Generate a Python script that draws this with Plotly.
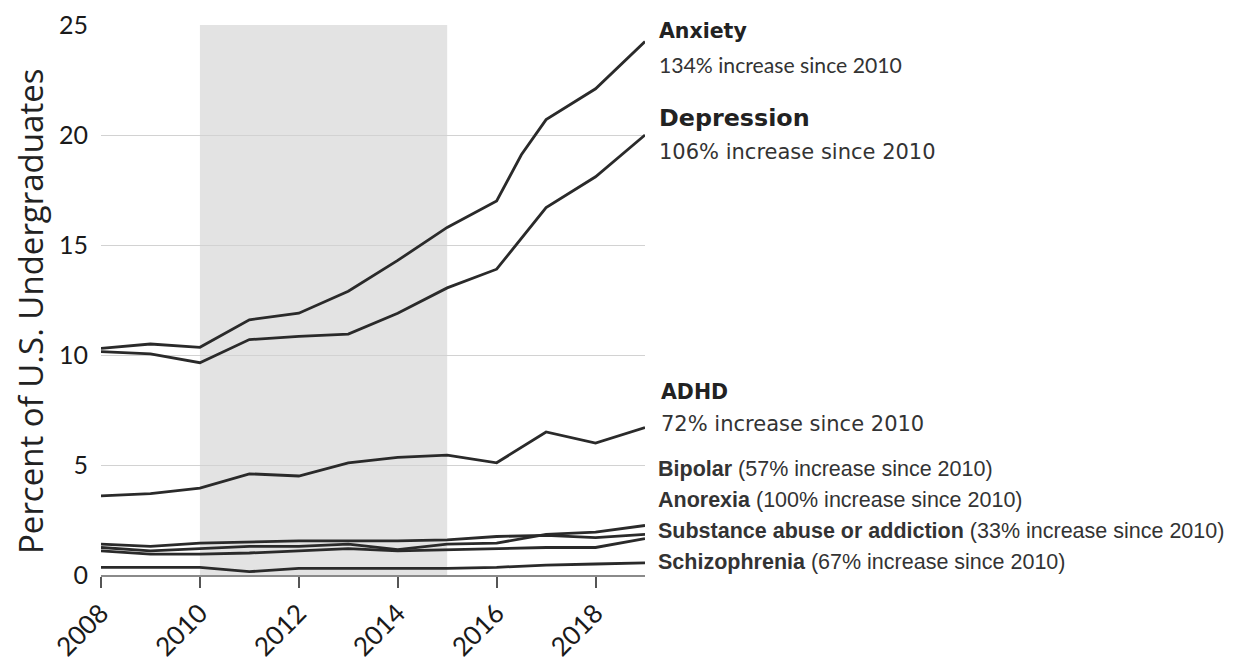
import plotly.graph_objects as go

# ---------------- data ----------------
years = [2008, 2009, 2010, 2011, 2012, 2013, 2014, 2015, 2016, 2017, 2018, 2019]
years_fine = [2008, 2009, 2010, 2011, 2012, 2013, 2014, 2015, 2016, 2016.5, 2017, 2018, 2019]

anxiety = [10.3, 10.5, 10.35, 11.6, 11.9, 12.9, 14.3, 15.8, 17.0, 19.1, 20.7, 22.1, 24.25]
depression = [10.15, 10.05, 9.65, 10.7, 10.85, 10.95, 11.9, 13.05, 13.9, 15.3, 16.7, 18.1, 20.0]
adhd = [3.6, 3.7, 3.95, 4.6, 4.5, 5.1, 5.35, 5.45, 5.1, 6.5, 6.0, 6.7]
substance = [1.4, 1.3, 1.45, 1.5, 1.55, 1.55, 1.55, 1.6, 1.75, 1.8, 1.7, 1.85]
bipolar = [1.25, 1.1, 1.2, 1.3, 1.3, 1.4, 1.15, 1.4, 1.45, 1.85, 1.95, 2.25]
anorexia = [1.1, 0.95, 0.95, 1.0, 1.1, 1.2, 1.1, 1.15, 1.2, 1.25, 1.25, 1.65]
schizophrenia = [0.35, 0.35, 0.35, 0.15, 0.3, 0.3, 0.3, 0.3, 0.35, 0.45, 0.5, 0.55]

shade_period = [2010, 2015]
y_ticks = [0, 5, 10, 15, 20, 25]
x_ticks = [2008, 2010, 2012, 2014, 2016, 2018]

# labels: (bold part, normal part)
label_anxiety = ("Anxiety", "134% increase since 2010")
label_depression = ("Depression", "106% increase since 2010")
label_adhd = ("ADHD", "72% increase since 2010")
small_labels = [
    ("Bipolar", "(57% increase since 2010)"),
    ("Anorexia", "(100% increase since 2010)"),
    ("Substance abuse or addiction", "(33% increase since 2010)"),
    ("Schizophrenia", "(67% increase since 2010)"),
]

# ---------------- figure ----------------
LINE_COLOR = "#2a2a2a"
fig = go.Figure()

series = [
    (years_fine, anxiety, "Anxiety"),
    (years_fine, depression, "Depression"),
    (years, adhd, "ADHD"),
    (years, substance, "Substance abuse or addiction"),
    (years, bipolar, "Bipolar"),
    (years, anorexia, "Anorexia"),
    (years, schizophrenia, "Schizophrenia"),
]
for xs, ys, name in series:
    fig.add_trace(go.Scatter(
        x=xs, y=ys, mode="lines", name=name,
        line=dict(color=LINE_COLOR, width=2.8),
        cliponaxis=False, showlegend=False,
    ))

fig.add_shape(type="rect", xref="x", yref="y",
              x0=shade_period[0], x1=shade_period[1], y0=0, y1=25,
              fillcolor="#e3e3e3", line=dict(width=0), layer="below")

# The page body has an 8px margin; the figure is laid out in its own coordinates.
PLOT_L, PLOT_W = 93, 544


def ypos(page_pix):
    # convert page pixel row to paper coordinate (plot spans page rows 25..575)
    return (575 - page_pix) / 550.0


def xpos(page_pix):
    return (page_pix - 8 - PLOT_L) / PLOT_W


big_font = "DejaVu Sans"
fig.add_annotation(text="<b>%s</b>" % label_anxiety[0], xref="paper", yref="paper",
                   x=xpos(657), y=ypos(31), xanchor="left", yanchor="middle", showarrow=False,
                   font=dict(family=big_font, size=20.5, color="#222"))
fig.add_annotation(text=label_anxiety[1], xref="paper", yref="paper",
                   x=xpos(657), y=ypos(65), xanchor="left", yanchor="middle", showarrow=False,
                   font=dict(family="Lato", size=21.2, color="#333"))
fig.add_annotation(text="<b>%s</b>" % label_depression[0], xref="paper", yref="paper",
                   x=xpos(657), y=ypos(118), xanchor="left", yanchor="middle", showarrow=False,
                   font=dict(family=big_font, size=23.8, color="#222"))
fig.add_annotation(text=label_depression[1], xref="paper", yref="paper",
                   x=xpos(657), y=ypos(152), xanchor="left", yanchor="middle", showarrow=False,
                   font=dict(family=big_font, size=21, color="#333"))
fig.add_annotation(text="<b>%s</b>" % label_adhd[0], xref="paper", yref="paper",
                   x=xpos(659), y=ypos(392), xanchor="left", yanchor="middle", showarrow=False,
                   font=dict(family=big_font, size=20.5, color="#222"))
fig.add_annotation(text=label_adhd[1], xref="paper", yref="paper",
                   x=xpos(659), y=ypos(424), xanchor="left", yanchor="middle", showarrow=False,
                   font=dict(family=big_font, size=21, color="#333"))

small_rows = [469, 500, 531, 562]
for (bold, normal), pix in zip(small_labels, small_rows):
    fig.add_annotation(text="<b>%s</b> %s" % (bold, normal), xref="paper", yref="paper",
                       x=xpos(656), y=ypos(pix), xanchor="left", yanchor="middle", showarrow=False,
                       font=dict(family="Liberation Sans", size=21.5, color="#333"))

# y axis title
fig.add_annotation(text="Percent of U.S. Undergraduates", xref="paper", yref="paper",
                   x=xpos(31), y=ypos(312), xanchor="center", yanchor="middle",
                   textangle=-90, showarrow=False,
                   font=dict(family="Open Sans", size=33, color="#222"))

fig.update_layout(
    width=1227, height=653,
    margin=dict(l=PLOT_L, r=1227 - PLOT_L - PLOT_W, t=17, b=86),
    paper_bgcolor="white", plot_bgcolor="white",
    showlegend=False,
    xaxis=dict(
        range=[2008, 2019], tickvals=x_ticks, ticktext=[str(v) for v in x_ticks],
        tickangle=-45, ticks="outside", ticklen=11, tickwidth=1.6, tickcolor="#555",
        showline=True, linecolor="#8a8a8a", linewidth=1.6,
        showgrid=False, zeroline=False, automargin=False,
        tickfont=dict(family="Lato", size=26, color="#1a1a1a"),
    ),
    yaxis=dict(
        range=[0, 25], tickvals=y_ticks, ticktext=[str(v) for v in y_ticks],
        showgrid=True, gridcolor="#d2d2d2", gridwidth=1.3, zeroline=False,
        ticks="", ticklabelstandoff=12, automargin=False,
        tickfont=dict(family="Lato", size=25, color="#1a1a1a"),
    ),
)

fig.write_html("out.html")
